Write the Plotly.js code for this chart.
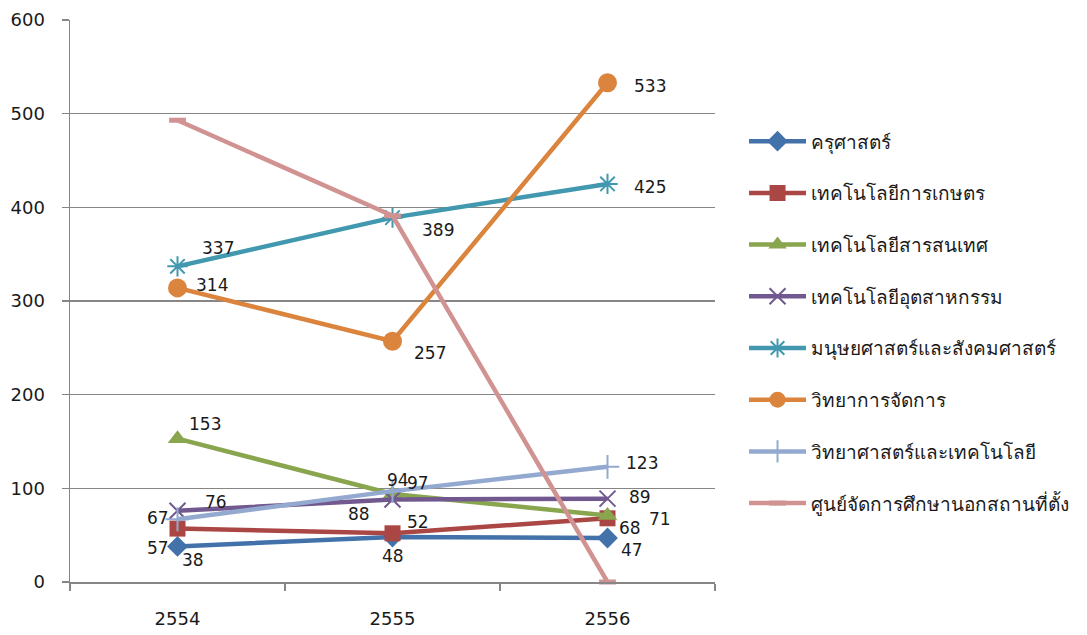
<!DOCTYPE html>
<html><head><meta charset="utf-8">
<script src="https://cdn.plot.ly/plotly-3.0.1.min.js"></script>
<style>html,body{margin:0;padding:0;background:#fff;}#chart{width:1087px;height:635px;}</style>
</head><body><div id="chart"></div>
<script>
const years = ['2554', '2555', '2556'];
const seriesNames = ['ครุศาสตร์','เทคโนโลยีการเกษตร','เทคโนโลยีสารสนเทศ','เทคโนโลยีอุตสาหกรรม','มนุษยศาสตร์และสังคมศาสตร์','วิทยาการจัดการ','วิทยาศาสตร์และเทคโนโลยี','ศูนย์จัดการศึกษานอกสถานที่ตั้ง'];
const kru = [38, 48, 47];
const agri = [57, 52, 68];
const infoTech = [153, 94, 71];
const indTech = [76, 88, 89];
const human = [337, 389, 425];
const manage = [314, 257, 533];
const sciTech = [67, 97, 123];
const offsite = [493, 391, 0];
const showLabels = [true, true, true, true, true, true, true, false];

const values = [kru, agri, infoTech, indTech, human, manage, sciTech, offsite];

// styling (not data)
const colors = ['#4371AA','#AA4744','#89A54E','#71588F','#4198AF','#DB843D','#93A9CF','#D19392'];
const symbols = ['diamond','square','triangle-up','x-thin','asterisk','circle','cross-thin','line-ew'];
const msizes = [16, 16, 17, 16, 17, 19, 17, 12];
// label pixel offsets [dx, dy(down)] per series / point
const labelOffsets = [
  [[15, 14], [0, 19], [24, 12]],
  [[-20, 19], [25, -11], [22, 10]],
  [[27, -15], [5, -14], [52, 3]],
  [[38, -9], [-34, 14], [32, -2]],
  [[40, -18], [45, 12], [42, 3]],
  [[34, -3], [37, 12], [42, 3]],
  [[-20, -1], [25, -8], [34, -4]],
  [[0, 0], [0, 0], [0, 0]]
];

const traces = values.map((v, i) => {
  const lined = symbols[i].endsWith('-thin') || symbols[i] === 'asterisk' || symbols[i] === 'line-ew';
  return {
    type: 'scatter',
    x: years,
    y: v,
    name: seriesNames[i],
    legendgroup: 'g' + i,
    mode: 'lines+markers',
    line: {color: colors[i], width: 4.5},
    marker: {
      symbol: symbols[i],
      size: msizes[i],
      color: colors[i],
      line: lined ? {color: colors[i], width: symbols[i] === 'line-ew' ? 5 : 2} : {width: 0}
    },
    cliponaxis: false
  };
});

const annotations = [];
values.forEach((v, i) => {
  if (!showLabels[i]) return;
  v.forEach((val, j) => {
    annotations.push({
      x: j, y: val, xref: 'x', yref: 'y',
      text: String(val), showarrow: false,
      xshift: labelOffsets[i][j][0], yshift: -labelOffsets[i][j][1],
      xanchor: 'center', yanchor: 'middle',
      font: {family: 'DejaVu Sans, Noto Sans, sans-serif', size: 17, color: '#1a1a1a'}
    });
  });
});

const layout = {
  width: 1087, height: 635,
  margin: {l: 70, r: 372, t: 20, b: 53},
  paper_bgcolor: '#fff', plot_bgcolor: '#fff',
  font: {family: 'DejaVu Sans, Noto Sans, sans-serif', size: 17, color: '#1a1a1a'},
  showlegend: true,
  legend: {
    x: 1.045, xanchor: 'left', y: 0.462, yanchor: 'middle',
    font: {family: 'Noto Sans, DejaVu Sans, sans-serif', size: 19, color: '#1a1a1a'},
    itemwidth: 57, tracegroupgap: 24, bgcolor: 'rgba(0,0,0,0)'
  },
  annotations: annotations,
  xaxis: {
    type: 'category',
    range: [-0.5, 2.5],
    tickson: 'boundaries',
    ticks: 'outside', ticklen: 7, tickcolor: '#868686', tickwidth: 1.5,
    showline: true, linecolor: '#868686', linewidth: 1.5,
    showgrid: false, zeroline: false,
    tickfont: {size: 18},
    ticklabelstandoff: 20,
    fixedrange: true
  },
  yaxis: {
    range: [0, 600], dtick: 100, tick0: 0,
    ticks: 'outside', ticklen: 7, tickcolor: '#868686', tickwidth: 1.5,
    showline: true, linecolor: '#868686', linewidth: 1.5,
    showgrid: true, gridcolor: '#868686', gridwidth: 1.5,
    zeroline: false,
    tickfont: {size: 18},
    ticklabelstandoff: 13,
    fixedrange: true
  }
};

Plotly.newPlot('chart', traces, layout, {staticPlot: true, displayModeBar: false});
</script>
</body></html>
